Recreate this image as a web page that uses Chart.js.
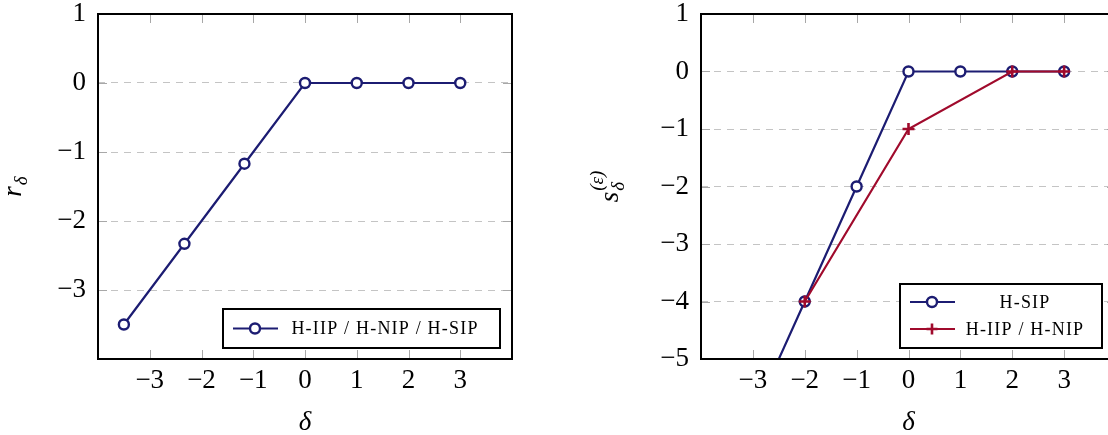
<!DOCTYPE html>
<html>
<head>
<meta charset="utf-8">
<script src="https://cdn.jsdelivr.net/npm/chart.js@4/dist/chart.umd.min.js"></script>
<style>
  body { margin: 0; width: 1108px; height: 435px; overflow: hidden; background: #fff; position: relative; }
  #leftChart { position: absolute; left: 0; top: 0; }
  #rightChart { position: absolute; left: 580px; top: 0; }
</style>
</head>
<body>
<canvas id="leftChart" width="540" height="435"></canvas>
<canvas id="rightChart" width="560" height="435"></canvas>
<script>
// data
const deltaAll = [-3.5, -2.33, -1.17, 0, 1, 2, 3];
const rDelta = [-3.5, -2.33, -1.17, 0, 0, 0, 0];
const deltaSip = [-3, -2, -1, 0, 1, 2, 3];
const sSip = [-6, -4, -2, 0, 0, 0, 0];
const deltaIipNip = [-2, 0, 2, 3];
const sIipNip = [-4, -1, 0, 0];
const xTickLabels = [-3, -2, -1, 0, 1, 2, 3];
const yTickLabelsLeft = [1, 0, -1, -2, -3];
const yTickLabelsRight = [1, 0, -1, -2, -3, -4, -5];

const BLUE = '#1c1c72';
const RED = '#a00a2c';
const SERIF = '"Liberation Serif", "DejaVu Serif", serif';

const fmt = v => (v < 0 ? '\u2212' + Math.abs(v) : String(v));
const pts = (xs, ys) => xs.map((x, i) => ({ x: x, y: ys[i] }));

// frame, inward tick marks, axis titles and the legend box
const decor = {
  id: 'decor',
  beforeDatasetsDraw(chart) {
    const { ctx, chartArea: a, scales: { x, y } } = chart;
    ctx.save();
    ctx.strokeStyle = '#a8a8a8';
    ctx.lineWidth = 1;
    ctx.beginPath();
    xTickLabels.forEach(v => {
      const px = Math.round(x.getPixelForValue(v)) + 0.5;
      ctx.moveTo(px, a.top); ctx.lineTo(px, a.top + 9);
      ctx.moveTo(px, a.bottom); ctx.lineTo(px, a.bottom - 9);
    });
    chart.options.plugins.decor.yTicks.forEach(v => {
      const py = Math.round(y.getPixelForValue(v)) + 0.5;
      ctx.moveTo(a.left, py); ctx.lineTo(a.left + 9, py);
      ctx.moveTo(a.right, py); ctx.lineTo(a.right - 9, py);
    });
    ctx.stroke();
    ctx.restore();
  },
  afterDatasetsDraw(chart) {
    const { ctx, chartArea: a } = chart;
    const o = chart.options.plugins.decor;
    ctx.save();
    ctx.strokeStyle = '#000';
    ctx.lineWidth = 2;
    ctx.strokeRect(a.left, a.top, a.right - a.left, a.bottom - a.top);

    // x title
    ctx.fillStyle = '#000';
    ctx.textAlign = 'center';
    ctx.textBaseline = 'alphabetic';
    ctx.font = 'italic 27px ' + SERIF;
    ctx.fillText('\u03b4', (a.left + a.right) / 2, 430);

    // y title, rotated
    ctx.save();
    ctx.translate(o.yTitleX, 187);
    ctx.rotate(-Math.PI / 2);
    ctx.textAlign = 'left';
    ctx.textBaseline = 'alphabetic';
    ctx.font = 'italic 27px ' + SERIF;
    const main = o.yTitle;
    const w0 = ctx.measureText(main).width;
    ctx.font = 'italic 19px ' + SERIF;
    const w1 = ctx.measureText(o.ySup || '\u03b4').width;
    const start = -(w0 + w1) / 2;
    ctx.font = 'italic 27px ' + SERIF;
    ctx.fillText(main, start, 0);
    ctx.font = 'italic 19px ' + SERIF;
    ctx.fillText('\u03b4', start + w0 + 1, 6);
    if (o.ySup) {
      ctx.fillText(o.ySup, start + w0 + 1, -15);
    }
    ctx.restore();

    // legend
    const L = o.legend;
    ctx.fillStyle = '#fff';
    ctx.fillRect(L.x, L.y, L.w, L.h);
    ctx.strokeStyle = '#000';
    ctx.lineWidth = 2;
    ctx.strokeRect(L.x, L.y, L.w, L.h);
    ctx.font = '18px ' + SERIF;
    ctx.letterSpacing = '1.2px';
    ctx.textBaseline = 'middle';
    L.items.forEach((it, i) => {
      const ry = L.y + L.rowTop + i * L.rowGap;
      ctx.strokeStyle = it.color;
      ctx.lineWidth = 2.2;
      ctx.beginPath();
      ctx.moveTo(L.x + 10, ry); ctx.lineTo(L.x + 55, ry);
      ctx.stroke();
      const mx = L.x + 32;
      if (it.marker === 'circle') {
        ctx.lineWidth = 2.4;
        ctx.fillStyle = '#fff';
        ctx.beginPath();
        ctx.arc(mx, ry, 5, 0, Math.PI * 2);
        ctx.fill();
        ctx.stroke();
      } else {
        ctx.lineWidth = 2.6;
        ctx.beginPath();
        ctx.moveTo(mx - 5.5, ry); ctx.lineTo(mx + 5.5, ry);
        ctx.moveTo(mx, ry - 5.5); ctx.lineTo(mx, ry + 5.5);
        ctx.stroke();
      }
      ctx.fillStyle = '#000';
      ctx.textAlign = 'center';
      ctx.fillText(it.text, L.x + L.textX, ry + 1);
    });
    ctx.restore();
  }
};

function scalesFor(yMin, yMax, yLabels, yWidth) {
  return {
    x: {
      type: 'linear', min: -4, max: 4,
      afterFit: s => { s.height = 76; s.paddingLeft = 0; s.paddingRight = 0; },
      afterBuildTicks: s => { s.ticks = [-4, -3, -2, -1, 0, 1, 2, 3, 4].map(v => ({ value: v })); },
      ticks: {
        color: '#000', padding: 8, maxRotation: 0, autoSkip: false,
        font: { family: SERIF, size: 27, lineHeight: 1 },
        callback: v => (xTickLabels.includes(v) ? fmt(v) : '')
      },
      grid: { drawOnChartArea: false, drawTicks: false },
      border: { display: false }
    },
    y: {
      type: 'linear', min: yMin, max: yMax,
      afterFit: s => { s.width = yWidth; s.paddingTop = 0; s.paddingBottom = 0; },
      afterBuildTicks: s => {
        const t = [];
        for (let v = yMax; v >= yMin; v--) t.push({ value: v });
        s.ticks = t;
      },
      ticks: {
        color: '#000', padding: 12, autoSkip: false,
        font: { family: SERIF, size: 27, lineHeight: 1 },
        callback: v => (yLabels.includes(v) ? fmt(v) : '')
      },
      grid: { color: '#c4c4c4', lineWidth: 1, drawTicks: false },
      border: { display: false, dash: [7, 6] }
    }
  };
}

const common = {
  responsive: false,
  animation: false,
  devicePixelRatio: 1,
  events: []
};

new Chart(document.getElementById('leftChart'), {
  type: 'scatter',
  data: {
    datasets: [{
      label: 'H-IIP / H-NIP / H-SIP',
      data: pts(deltaAll, rDelta),
      showLine: true,
      borderColor: BLUE,
      borderWidth: 2.2,
      pointStyle: 'circle',
      pointRadius: 5,
      pointBorderWidth: 2.4,
      pointBackgroundColor: '#fff',
      pointBorderColor: BLUE
    }]
  },
  options: Object.assign({}, common, {
    layout: { padding: { top: 14, right: 28, left: 0, bottom: 0 } },
    scales: scalesFor(-4, 1, yTickLabelsLeft, 98),
    plugins: {
      legend: { display: false },
      tooltip: { enabled: false },
      decor: {
        yTicks: [0, -1, -2, -3],
        yTitleX: 21,
        yTitle: 'r',
        legend: {
          x: 223, y: 309, w: 277, h: 39, rowTop: 19.5, rowGap: 0, textX: 162,
          items: [{ color: BLUE, marker: 'circle', text: 'H-IIP / H-NIP / H-SIP' }]
        }
      }
    }
  }),
  plugins: [decor]
});

new Chart(document.getElementById('rightChart'), {
  type: 'scatter',
  data: {
    datasets: [{
      label: 'H-SIP',
      data: pts(deltaSip, sSip),
      showLine: true,
      order: 1,
      borderColor: BLUE,
      borderWidth: 2.2,
      pointStyle: 'circle',
      pointRadius: 5,
      pointBorderWidth: 2.4,
      pointBackgroundColor: '#fff',
      pointBorderColor: BLUE
    }, {
      label: 'H-IIP / H-NIP',
      data: pts(deltaIipNip, sIipNip),
      showLine: true,
      order: 0,
      borderColor: RED,
      borderWidth: 2.2,
      pointStyle: 'cross',
      pointRadius: 6,
      pointBorderWidth: 2.6,
      pointBorderColor: RED
    }]
  },
  options: Object.assign({}, common, {
    layout: { padding: { top: 14, right: 24, left: 0, bottom: 0 } },
    scales: scalesFor(-5, 1, yTickLabelsRight, 121),
    plugins: {
      legend: { display: false },
      tooltip: { enabled: false },
      decor: {
        yTicks: [0, -1, -2, -3, -4],
        yTitleX: 38,
        yTitle: 's',
        ySup: '(\u03b5)',
        legend: {
          x: 320, y: 284, w: 202, h: 64, rowTop: 18, rowGap: 27, textX: 125,
          items: [
            { color: BLUE, marker: 'circle', text: 'H-SIP' },
            { color: RED, marker: 'cross', text: 'H-IIP / H-NIP' }
          ]
        }
      }
    }
  }),
  plugins: [decor]
});
</script>
</body>
</html>
